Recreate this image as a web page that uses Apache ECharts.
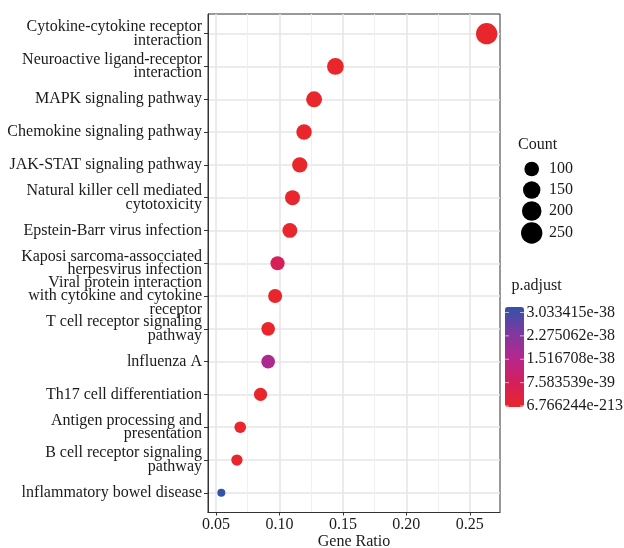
<!DOCTYPE html>
<html>
<head>
<meta charset="utf-8">
<script src="https://cdn.jsdelivr.net/npm/echarts@6/dist/echarts.min.js"></script>
<style>
  html, body { margin: 0; padding: 0; background: #fff; }
  #chart { width: 624px; height: 548px; }
</style>
</head>
<body>
<div id="chart"></div>
<script>
const pathways = [
  'Cytokine-cytokine receptor\ninteraction',
  'Neuroactive ligand-receptor\ninteraction',
  'MAPK signaling pathway',
  'Chemokine signaling pathway',
  'JAK-STAT signaling pathway',
  'Natural killer cell mediated\ncytotoxicity',
  'Epstein-Barr virus infection',
  'Kaposi sarcoma-assocciated\nherpesvirus infection',
  'Viral protein interaction\nwith cytokine and cytokine\nreceptor',
  'T cell receptor signaling\npathway',
  'lnfluenza A',
  'Th17 cell differentiation',
  'Antigen processing and\npresentation',
  'B cell receptor signaling\npathway',
  'lnflammatory bowel disease'
]
const geneRatio = [0.2633, 0.1441, 0.1273, 0.1194, 0.1160, 0.1103, 0.1082, 0.0985, 0.0966, 0.0911, 0.0911, 0.0851, 0.0691, 0.0665, 0.0542]
const geneCount = [250, 137, 121, 113, 110, 105, 103, 94, 92, 87, 87, 81, 66, 63, 51]
const pAdjust = [6.766244e-213, 2.1e-120, 4.5e-95, 3.2e-90, 1.4e-85, 8.8e-70, 2.6e-65, 6.9e-39, 5.0e-55, 1.2e-50, 1.62e-38, 3.7e-48, 2.2e-45, 9.1e-44, 3.033415e-38]

const ratioTicks = [0.05, 0.10, 0.15, 0.20, 0.25]
const ratioMinorTicks = [0.075, 0.125, 0.175, 0.225]
const countTicks = [100, 150, 200, 250]
const pTicks = [3.033415e-38, 2.275062e-38, 1.516708e-38, 7.583539e-39, 6.766244e-213]
const pTickLabels = ['3.033415e-38', '2.275062e-38', '1.516708e-38', '7.583539e-39', '6.766244e-213']

const FONT = 'Liberation Serif'
const TEXT = '#1a1a1a'

const cMin = Math.min(...geneCount)
const cMax = Math.max(...geneCount)
// ggplot-like area scale, range 3..8
const sizeOf = c => 2.67 * (3 + 5 * Math.sqrt(Math.max(0, c - cMin) / (cMax - cMin)))

const pMin = Math.min(...pAdjust)
const pMax = Math.max(...pAdjust)
const barColors = ['#E8262B', '#D41F5C', '#B3288E', '#7C3A9F', '#3253A8']

const points = pathways.map((_, i) => [geneRatio[i], i, geneCount[i], pAdjust[i]])

const chart = echarts.init(document.getElementById('chart'))

// legend graphics: Count sizes and p.adjust colour bar labels
const graphics = [
  { type: 'text', left: 518, top: 137, style: { text: 'Count', font: `16px "${FONT}"`, fill: TEXT } },
  { type: 'text', left: 511.5, top: 278, style: { text: 'p.adjust', font: `16px "${FONT}"`, fill: TEXT } }
]
const countY = [169, 190, 211, 233]
countTicks.forEach((c, k) => {
  graphics.push({ type: 'circle', shape: { cx: 531.7, cy: countY[k], r: sizeOf(c) / 2 }, style: { fill: '#000' } })
  graphics.push({ type: 'text', x: 549, y: countY[k], style: { text: String(c), font: `16px "${FONT}"`, fill: TEXT, verticalAlign: 'middle' } })
})
pTicks.forEach((v, k) => {
  const y = 312.5 + (1 - v / pMax) * 93.5
  graphics.push({ type: 'text', x: 526.5, y: y, style: { text: pTickLabels[k], font: `16px "${FONT}"`, fill: TEXT, verticalAlign: 'middle' } })
  graphics.push({ type: 'line', shape: { x1: 505, y1: y, x2: 509, y2: y }, style: { stroke: 'rgba(255,255,255,0.6)', lineWidth: 1 }, z: 100 })
  graphics.push({ type: 'line', shape: { x1: 520, y1: y, x2: 524, y2: y }, style: { stroke: 'rgba(255,255,255,0.6)', lineWidth: 1 }, z: 100 })
})

const option = {
  animation: false,
  backgroundColor: '#fff',
  grid: {
    left: 208, top: 14, right: 124, bottom: 35.5,
    outerBoundsMode: 'none',
    containLabel: false,
    show: true, borderColor: '#333', borderWidth: 1, backgroundColor: 'transparent'
  },
  xAxis: [
    {
      type: 'value',
      min: 0.0437,
      max: 0.2738,
      name: 'Gene Ratio',
      nameLocation: 'middle',
      nameGap: 21,
      nameMoveOverlap: false,
      nameTextStyle: { fontFamily: FONT, fontSize: 16, color: TEXT },
      axisLine: { show: true, onZero: false, lineStyle: { color: '#333', width: 1 } },
      axisTick: { show: true, length: 3, customValues: ratioTicks, lineStyle: { color: '#333' } },
      axisLabel: {
        customValues: ratioTicks,
        margin: 4,
        fontFamily: FONT, fontSize: 16, color: TEXT,
        formatter: v => v.toFixed(2)
      },
      splitLine: { show: true, lineStyle: { color: '#E6E6E6', width: 1.6 } }
    },
    {
      type: 'value',
      min: 0.0437,
      max: 0.2738,
      position: 'top',
      axisLine: { show: false, onZero: false },
      axisTick: { show: false, customValues: ratioMinorTicks },
      axisLabel: { show: false, customValues: ratioMinorTicks },
      splitLine: { show: true, lineStyle: { color: '#F0F0F0', width: 1 } }
    }
  ],
  yAxis: {
    type: 'value',
    min: -0.6,
    max: 14.6,
    inverse: true,
    axisLine: { show: true, onZero: false, lineStyle: { color: '#333', width: 1 } },
    axisTick: { show: true, length: 4, customValues: pathways.map((_, i) => i), lineStyle: { color: '#333' } },
    axisLabel: {
      customValues: pathways.map((_, i) => i),
      margin: 6,
      fontFamily: FONT, fontSize: 16, color: TEXT, lineHeight: 13.5, align: 'right',
      formatter: v => pathways[Math.round(v)]
    },
    splitLine: { show: true, lineStyle: { color: '#E6E6E6', width: 1.6 } }
  },
  visualMap: {
    type: 'continuous',
    min: pMin,
    max: pMax,
    dimension: 3,
    seriesIndex: 0,
    orient: 'vertical',
    left: 505,
    top: 307,
    itemWidth: 19,
    itemHeight: 100,
    calculable: false,
    padding: 0,
    text: null,
    inRange: { color: barColors }
  },
  series: [{
    type: 'scatter',
    xAxisIndex: 0,
    data: points,
    encode: { x: 0, y: 1 },
    symbolSize: d => sizeOf(d[2]),
    itemStyle: { opacity: 1 },
    z: 5
  }],
  graphic: graphics
}

chart.setOption(option)
</script>
</body>
</html>
